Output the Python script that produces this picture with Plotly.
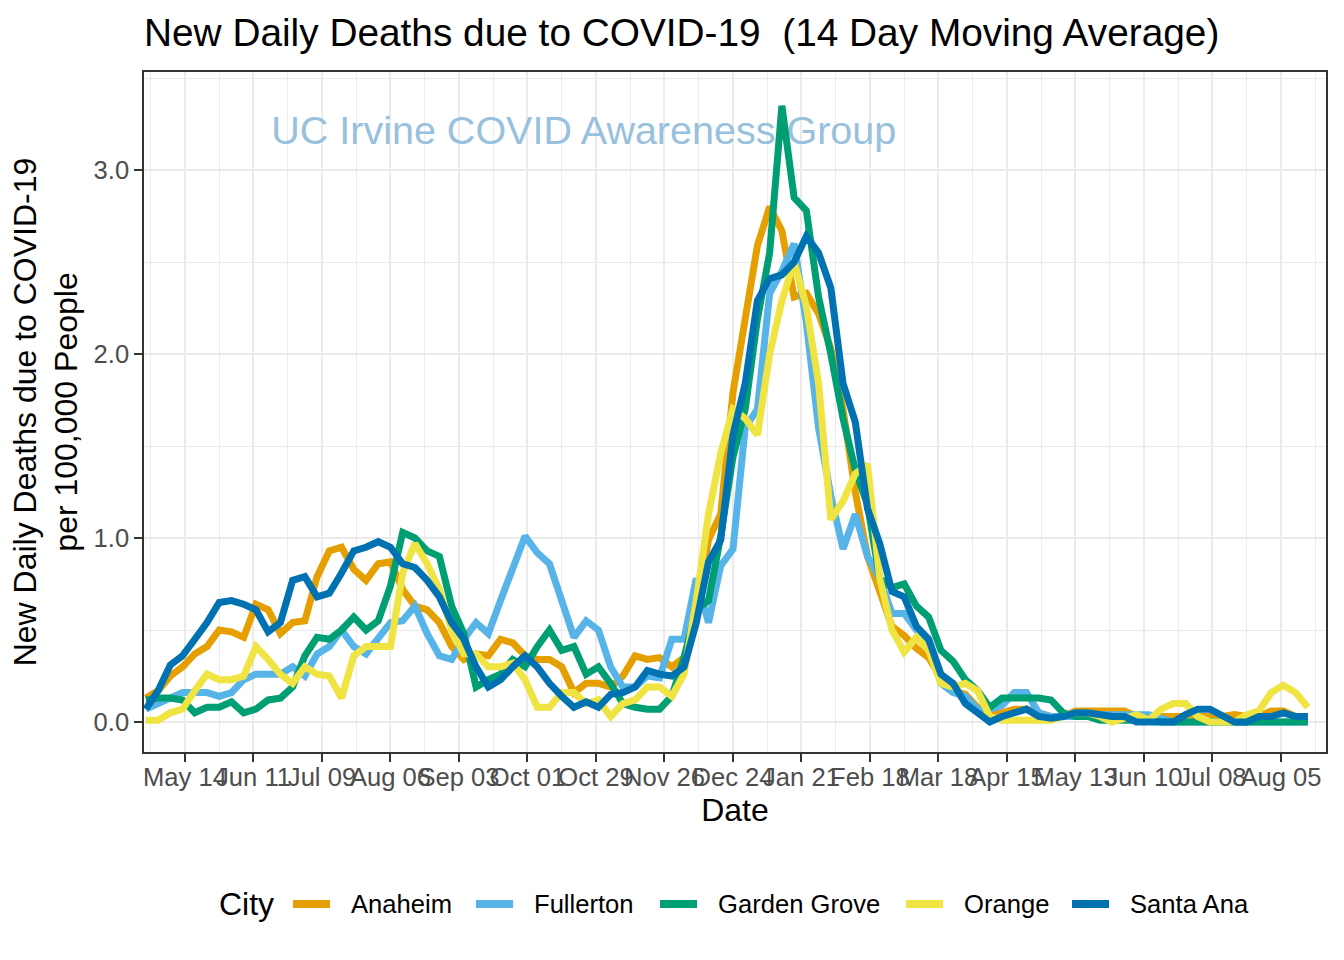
import pandas as pd
import plotly.graph_objects as go

# ---- data (5-day samples) ----
dates = pd.date_range("2020-04-28", periods=96, freq="5D")

anaheim = [0.13,0.17,0.25,0.30,0.37,0.41,0.50,0.49,0.46,0.64,
           0.61,0.48,0.54,0.55,0.79,0.93,0.95,0.83,0.77,0.86,
           0.87,0.72,0.63,0.61,0.54,0.41,0.34,0.37,0.36,0.45,
           0.43,0.36,0.34,0.34,0.30,0.16,0.21,0.21,0.19,0.25,
           0.36,0.34,0.35,0.30,0.35,0.59,0.99,1.13,1.79,2.17,
           2.59,2.80,2.67,2.31,2.33,2.22,2.03,1.70,1.25,0.90,
           0.71,0.52,0.47,0.40,0.35,0.24,0.17,0.15,0.08,0.05,
           0.05,0.07,0.07,0.05,0.03,0.03,0.06,0.06,0.06,0.06,
           0.06,0.03,0.03,0.03,0.03,0.03,0.03,0.03,0.03,0.04,
           0.03,0.03,0.06,0.06,0.03,0.03]

fullerton = [0.07,0.10,0.14,0.16,0.16,0.16,0.14,0.16,0.23,0.26,
             0.26,0.26,0.30,0.25,0.37,0.41,0.50,0.41,0.37,0.46,
             0.54,0.55,0.63,0.48,0.36,0.34,0.45,0.54,0.48,0.66,
             0.83,1.01,0.92,0.86,0.66,0.46,0.55,0.50,0.30,0.19,
             0.19,0.25,0.24,0.45,0.45,0.78,0.54,0.85,0.94,1.60,
             1.70,2.33,2.45,2.60,2.17,1.60,1.23,0.94,1.13,0.90,
             0.78,0.59,0.59,0.50,0.43,0.21,0.16,0.14,0.07,0.07,
             0.09,0.16,0.16,0.05,0.03,0.03,0.03,0.03,0.04,0.04,
             0.04,0.04,0.04,0.02,0.00,0.00,0.00,0.00,0.00,0.00,
             0.00,0.00,0.00,0.00,0.00,0.00]

garden_grove = [0.12,0.13,0.13,0.12,0.05,0.08,0.08,0.11,0.05,0.07,
                0.12,0.13,0.19,0.36,0.46,0.45,0.50,0.57,0.50,0.55,
                0.74,1.03,1.00,0.93,0.90,0.63,0.48,0.19,0.23,0.26,
                0.34,0.30,0.41,0.50,0.39,0.41,0.26,0.30,0.21,0.10,
                0.08,0.07,0.07,0.14,0.35,0.61,0.66,1.01,1.44,1.70,
                2.19,2.55,3.35,2.85,2.78,2.31,2.00,1.65,1.37,1.18,
                0.78,0.73,0.75,0.63,0.57,0.39,0.33,0.23,0.17,0.08,
                0.13,0.13,0.13,0.13,0.12,0.05,0.03,0.03,0.01,0.01,
                0.01,0.01,0.01,0.00,0.00,0.00,0.00,0.00,0.00,0.00,
                0.00,0.00,0.00,0.00,0.00,0.00]

orange = [0.01,0.01,0.05,0.07,0.17,0.26,0.23,0.23,0.25,0.41,
          0.34,0.26,0.21,0.30,0.26,0.25,0.13,0.36,0.41,0.41,
          0.41,0.81,0.97,0.86,0.72,0.50,0.37,0.37,0.30,0.30,
          0.32,0.23,0.08,0.08,0.16,0.16,0.10,0.12,0.03,0.10,
          0.12,0.19,0.19,0.14,0.26,0.66,1.13,1.46,1.70,1.65,
          1.56,2.00,2.29,2.50,2.26,1.84,1.10,1.20,1.35,1.40,
          0.78,0.50,0.38,0.46,0.39,0.21,0.19,0.21,0.17,0.03,
          0.01,0.01,0.01,0.01,0.01,0.03,0.05,0.05,0.03,0.00,
          0.02,0.04,0.01,0.07,0.10,0.10,0.03,0.00,0.00,0.00,
          0.04,0.06,0.16,0.20,0.16,0.08]

santa_ana = [0.07,0.17,0.31,0.36,0.45,0.54,0.65,0.66,0.64,0.61,
             0.49,0.54,0.77,0.79,0.68,0.70,0.81,0.93,0.95,0.98,
             0.95,0.86,0.84,0.77,0.68,0.54,0.45,0.30,0.19,0.23,
             0.30,0.36,0.30,0.21,0.14,0.08,0.11,0.08,0.15,0.16,
             0.19,0.28,0.26,0.25,0.30,0.54,0.87,0.99,1.56,1.84,
             2.29,2.41,2.43,2.50,2.64,2.55,2.36,1.84,1.63,1.16,
             0.97,0.71,0.68,0.52,0.45,0.26,0.21,0.10,0.05,0.00,
             0.03,0.05,0.07,0.03,0.02,0.03,0.05,0.05,0.04,0.03,
             0.03,0.00,0.00,0.00,0.00,0.04,0.07,0.07,0.03,0.00,
             0.00,0.03,0.03,0.05,0.03,0.03]

cities = ["Anaheim", "Fullerton", "Garden Grove", "Orange", "Santa Ana"]
series = [anaheim, fullerton, garden_grove, orange, santa_ana]
colors = ["#E69F00", "#56B4E9", "#009E73", "#F0E442", "#0072B2"]

tick_dates = ["2020-05-14", "2020-06-11", "2020-07-09", "2020-08-06", "2020-09-03",
              "2020-10-01", "2020-10-29", "2020-11-26", "2020-12-24", "2021-01-21",
              "2021-02-18", "2021-03-18", "2021-04-15", "2021-05-13", "2021-06-10",
              "2021-07-08", "2021-08-05"]
tick_labels = [pd.Timestamp(d).strftime("%b %d") for d in tick_dates]
minor_dates = [(pd.Timestamp(d) - pd.Timedelta(days=14)).strftime("%Y-%m-%d") for d in tick_dates] + \
              [(pd.Timestamp(tick_dates[-1]) + pd.Timedelta(days=14)).strftime("%Y-%m-%d")]

y_ticks = [0, 1, 2, 3]
y_labels = ["0.0", "1.0", "2.0", "3.0"]
y_minor = [0.5, 1.5, 2.5, 3.5]

FONT = "Liberation Sans, Arial, sans-serif"

# plot-area geometry in pixels (for legend placement)
PL, PR, PT, PB = 144, 1326, 72, 752
def px(xp):
    return (xp - PL) / (PR - PL)
def py(yp):
    return (PB - yp) / (PB - PT)

fig = go.Figure()

# watermark (drawn first so the lines sit above it)
fig.add_trace(go.Scatter(
    x=[pd.Timestamp("2020-10-24")], y=[3.195], mode="text",
    text=["UC Irvine COVID Awareness Group"],
    textfont=dict(family=FONT, size=39.5, color="#97C1DD"),
    showlegend=False, hoverinfo="skip"))

for name, vals, col in zip(cities, series, colors):
    fig.add_trace(go.Scatter(
        x=dates, y=vals, mode="lines", name=name, showlegend=False,
        line=dict(color=col, width=7)))

# legend drawn at the reference positions
legend_y = 904
key_x = [293, 476, 660, 906, 1072]
shapes = []
annotations = [dict(text="City", x=px(217), y=py(legend_y), xref="paper", yref="paper",
                    xanchor="left", yanchor="middle", showarrow=False,
                    font=dict(family=FONT, size=32, color="black"))]
for name, col, kx in zip(cities, colors, key_x):
    shapes.append(dict(type="line", xref="paper", yref="paper",
                       x0=px(kx), x1=px(kx + 37), y0=py(legend_y), y1=py(legend_y),
                       line=dict(color=col, width=8)))
    annotations.append(dict(text=name, x=px(kx + 56), y=py(legend_y), xref="paper", yref="paper",
                            xanchor="left", yanchor="middle", showarrow=False,
                            font=dict(family=FONT, size=25.6, color="black")))

axis_common = dict(
    showline=True, mirror=True, linecolor="#333333", linewidth=1.5,
    ticks="outside", ticklen=8, tickwidth=2, tickcolor="#333333",
    gridcolor="#EBEBEB", gridwidth=2.2, zeroline=False,
    tickfont=dict(family=FONT, size=25.6, color="#4D4D4D"),
)

fig.update_layout(
    width=1344, height=960,
    margin=dict(l=PL, r=1344 - PR, t=PT, b=960 - PB),
    paper_bgcolor="white", plot_bgcolor="white",
    font=dict(family=FONT, color="black"),
    showlegend=False,
    title=dict(text="New Daily Deaths due to COVID-19  (14 Day Moving Average)",
               x=144/1344, xanchor="left", xref="container",
               y=1 - 32/960, yanchor="middle", yref="container",
               font=dict(family=FONT, size=38.8, color="black")),
    xaxis=dict(
        type="date",
        range=["2020-04-27 06:00", "2021-08-23 10:00"],
        tickvals=tick_dates, ticktext=tick_labels, tickangle=0,
        ticklabelstandoff=-6,
        minor=dict(tickvals=minor_dates, showgrid=True, gridcolor="#EBEBEB",
                   gridwidth=1.1, ticks=""),
        title=dict(text="Date", font=dict(family=FONT, size=32, color="black"), standoff=8),
        automargin=False,
        **axis_common),
    yaxis=dict(
        range=[-0.163, 3.533],
        tickvals=y_ticks, ticktext=y_labels,
        minor=dict(tickvals=y_minor, showgrid=True, gridcolor="#EBEBEB",
                   gridwidth=1.1, ticks=""),
        title=dict(text="New Daily Deaths due to COVID-19<br>per 100,000 People",
                   font=dict(family=FONT, size=32, color="black"), standoff=6),
        automargin=False,
        **axis_common),
    shapes=shapes,
    annotations=annotations,
)

fig.write_html("out.html")
